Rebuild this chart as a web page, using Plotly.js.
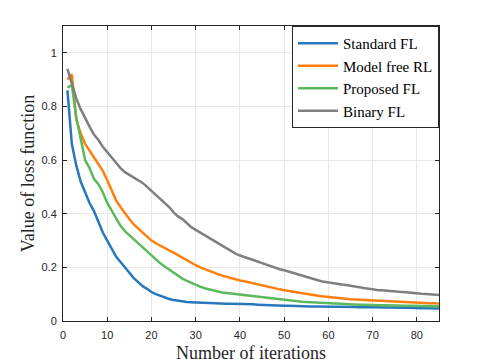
<!DOCTYPE html>
<html>
<head>
<meta charset="utf-8">
<script src="https://cdn.plot.ly/plotly-3.0.1.min.js"></script>
<style>
  body { margin: 0; background: #fff; }
  #graph { width: 485px; height: 364px; }
</style>
</head>
<body>
<div id="graph"></div>
<script>
// loss per iteration
let iters = Array(85).fill(0).map((v, i) => i + 1)

let standardFL = [0.86, 0.66, 0.58, 0.52, 0.48, 0.44, 0.41, 0.37, 0.33, 0.30,
    0.27, 0.24, 0.22, 0.20, 0.18, 0.16, 0.145, 0.13, 0.12, 0.108,
    0.100, 0.093, 0.087, 0.082, 0.078, 0.075, 0.073, 0.071, 0.070, 0.069,
    0.068, 0.067, 0.067, 0.066, 0.066, 0.065, 0.064, 0.064, 0.064, 0.063,
    0.063, 0.062, 0.062, 0.061, 0.060, 0.060, 0.059, 0.058, 0.058, 0.057,
    0.057, 0.056, 0.056, 0.055, 0.055, 0.054, 0.054, 0.054, 0.053, 0.053,
    0.053, 0.053, 0.052, 0.053, 0.053, 0.052, 0.051, 0.052, 0.051, 0.051,
    0.050, 0.051, 0.050, 0.050, 0.049, 0.050, 0.049, 0.049, 0.048, 0.049,
    0.048, 0.048, 0.048, 0.047, 0.047]

let modelFreeRL = [0.90, 0.92, 0.75, 0.70, 0.66, 0.635, 0.61, 0.585, 0.56, 0.525,
    0.49, 0.45, 0.425, 0.40, 0.38, 0.36, 0.345, 0.33, 0.315, 0.30,
    0.29, 0.28, 0.27, 0.263, 0.255, 0.245, 0.235, 0.226, 0.217, 0.208,
    0.200, 0.193, 0.187, 0.181, 0.175, 0.169, 0.164, 0.159, 0.155, 0.151,
    0.148, 0.144, 0.140, 0.136, 0.132, 0.128, 0.125, 0.122, 0.118, 0.115,
    0.112, 0.109, 0.106, 0.103, 0.100, 0.097, 0.095, 0.093, 0.091, 0.089,
    0.087, 0.086, 0.084, 0.082, 0.081, 0.080, 0.079, 0.078, 0.077, 0.076,
    0.076, 0.075, 0.075, 0.074, 0.073, 0.072, 0.071, 0.070, 0.070, 0.069,
    0.068, 0.067, 0.066, 0.066, 0.065]

let proposedFL = [0.87, 0.88, 0.76, 0.68, 0.60, 0.57, 0.53, 0.51, 0.48, 0.44,
    0.41, 0.38, 0.355, 0.335, 0.32, 0.305, 0.29, 0.275, 0.258, 0.243,
    0.230, 0.215, 0.203, 0.191, 0.179, 0.168, 0.158, 0.150, 0.142, 0.135,
    0.128, 0.122, 0.118, 0.113, 0.109, 0.106, 0.104, 0.102, 0.100, 0.098,
    0.096, 0.095, 0.093, 0.091, 0.089, 0.087, 0.085, 0.083, 0.080, 0.078,
    0.077, 0.075, 0.074, 0.072, 0.071, 0.070, 0.069, 0.068, 0.067, 0.066,
    0.065, 0.064, 0.064, 0.063, 0.062, 0.062, 0.061, 0.061, 0.060, 0.060,
    0.059, 0.059, 0.059, 0.058, 0.058, 0.058, 0.057, 0.057, 0.057, 0.056,
    0.056, 0.056, 0.056, 0.055, 0.055]

let binaryFL = [0.94, 0.88, 0.83, 0.79, 0.755, 0.725, 0.695, 0.675, 0.65, 0.63,
    0.61, 0.59, 0.57, 0.555, 0.545, 0.535, 0.525, 0.515, 0.50, 0.485,
    0.47, 0.455, 0.44, 0.425, 0.405, 0.39, 0.38, 0.365, 0.35, 0.34,
    0.33, 0.32, 0.312, 0.302, 0.291, 0.280, 0.270, 0.260, 0.251, 0.244,
    0.239, 0.234, 0.228, 0.222, 0.216, 0.210, 0.204, 0.198, 0.193, 0.189,
    0.184, 0.179, 0.174, 0.169, 0.163, 0.158, 0.154, 0.150, 0.146, 0.143,
    0.140, 0.138, 0.136, 0.134, 0.132, 0.129, 0.126, 0.123, 0.120, 0.118,
    0.116, 0.115, 0.113, 0.112, 0.111, 0.109, 0.108, 0.106, 0.105, 0.103,
    0.102, 0.101, 0.099, 0.098, 0.097]

let names = ['Standard FL', 'Model free RL', 'Proposed FL', 'Binary FL']
let colors = ['#2878bd', '#ff7f0e', '#5cb85c', '#7f7f7f']
let series = [standardFL, modelFreeRL, proposedFL, binaryFL]

let traces = series.map((y, i) => ({
    x: iters, y, name: names[i], type: 'scatter', mode: 'lines',
    line: { color: colors[i], width: 2.5 }
}))

let serif = 'Liberation Serif, Times New Roman, serif'

let axisCommon = {
    showline: true, linecolor: '#262626', linewidth: 1, mirror: 'ticks',
    ticks: 'inside', ticklen: 4, tickcolor: '#262626',
    showgrid: true, gridcolor: '#e8e8e8', zeroline: false,
    tickfont: { family: 'Liberation Sans, Arial, sans-serif', size: 11, color: '#262626' }
}

Plotly.newPlot('graph', traces, {
    width: 485, height: 364,
    margin: { l: 63, r: 46, t: 26, b: 43 },
    paper_bgcolor: '#fff', plot_bgcolor: '#fff',
    xaxis: Object.assign({}, axisCommon, {
        range: [0, 85], tickvals: [0, 10, 20, 30, 40, 50, 60, 70, 80],
        ticklabelstandoff: 4,
        title: { text: 'Number of iterations', standoff: 6,
            font: { family: serif, size: 18, color: '#262626' } }
    }),
    yaxis: Object.assign({}, axisCommon, {
        range: [0, 1.1], tickvals: [0, 0.2, 0.4, 0.6, 0.8, 1],
        ticktext: ['0', '0.2', '0.4', '0.6', '0.8', '1'],
        ticklabelstandoff: 3,
        title: { text: 'Value of loss function', standoff: 2,
            font: { family: serif, size: 18, color: '#262626' } }
    }),
    showlegend: true,
    legend: {
        x: 1, xanchor: 'right', y: 1, yanchor: 'top',
        bgcolor: '#fff', bordercolor: '#262626', borderwidth: 1,
        font: { family: serif, size: 15, color: '#000' },
        itemwidth: 40, tracegroupgap: 0
    }
}, { displayModeBar: false, staticPlot: true })
</script>
</body>
</html>
